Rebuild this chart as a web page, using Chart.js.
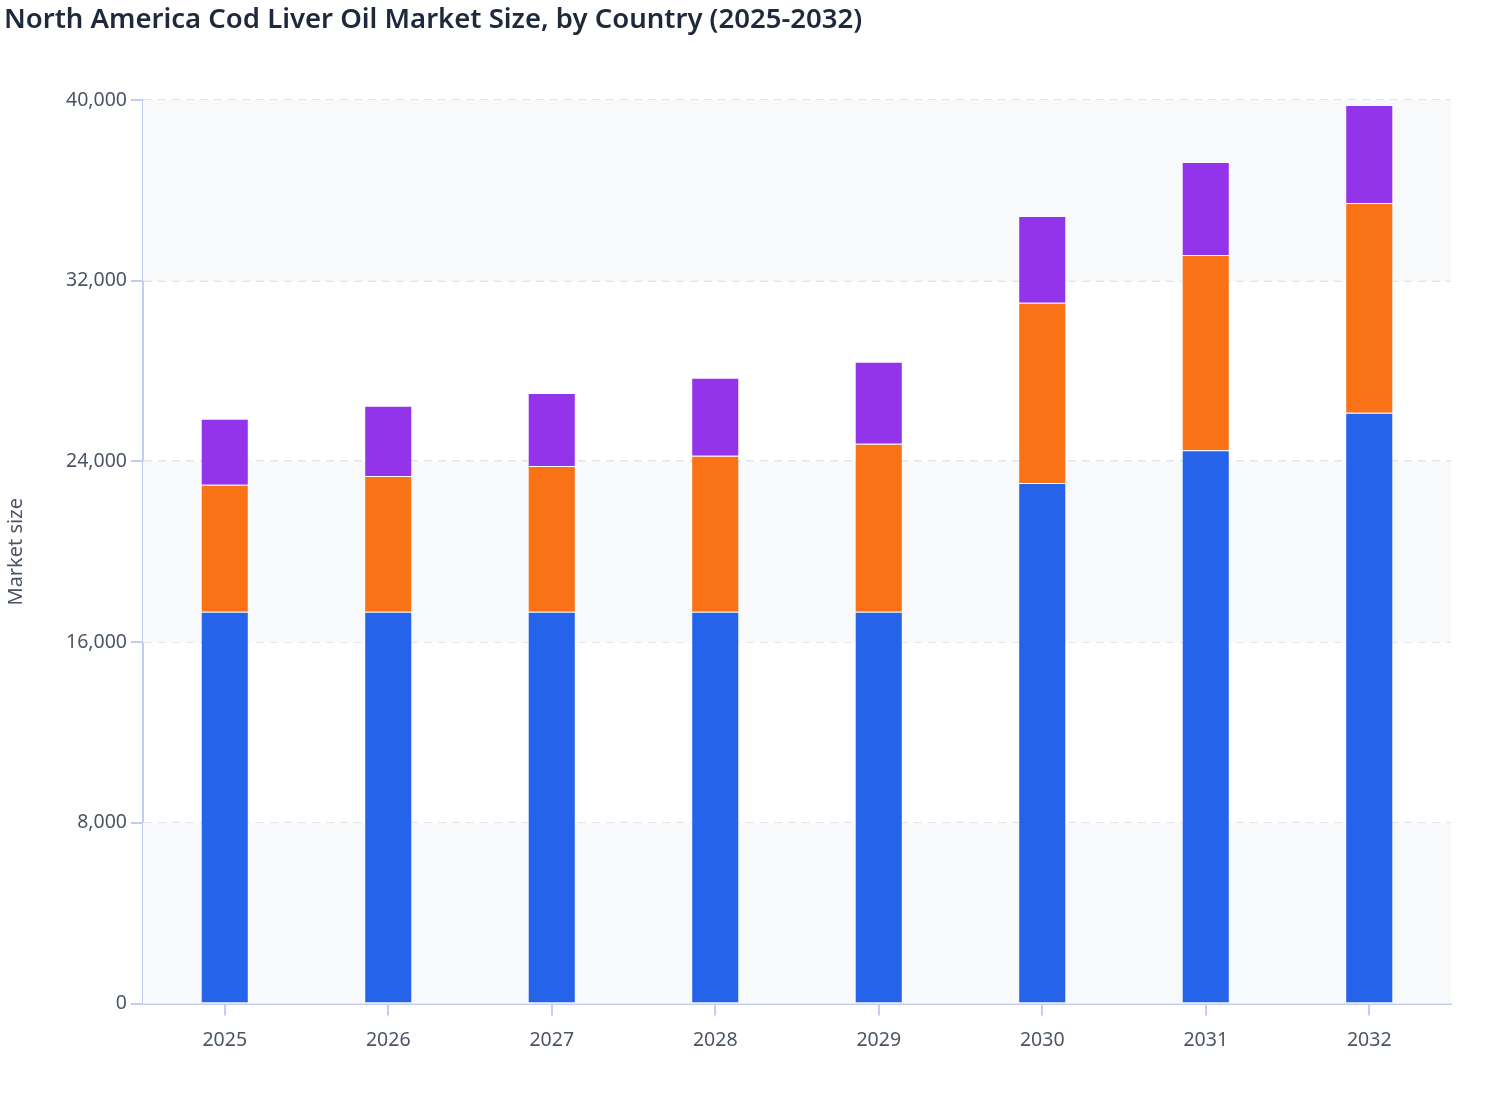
<!DOCTYPE html>
<html>
<head>
<meta charset="utf-8">
<script src="https://cdn.jsdelivr.net/npm/chart.js@4"></script>
<style>
  body { margin: 0; background: #fff; }
  #wrap { width: 1508px; height: 1120px; }
</style>
</head>
<body>
<div id="wrap"><canvas id="marketChart" width="1508" height="1120"></canvas></div>
<script>
const years = ["2025", "2026", "2027", "2028", "2029", "2030", "2031", "2032"];
const usValues = [17350, 17350, 17350, 17350, 17350, 23050, 24500, 26150];
const canadaValues = [5620, 6010, 6450, 6900, 7430, 7970, 8640, 9290];
const mexicoValues = [2920, 3100, 3230, 3450, 3630, 3850, 4115, 4340];
const yTicks = [0, 8000, 16000, 24000, 32000, 40000];

// shade every other band between y ticks
const bands = {
  id: "bands",
  beforeDatasetsDraw(chart) {
    const { ctx, chartArea, scales } = chart;
    const y = scales.y;
    ctx.save();
    ctx.fillStyle = "#f8f9fb";
    for (let i = 0; i < yTicks.length - 1; i += 2) {
      const top = y.getPixelForValue(yTicks[i + 1]);
      const bottom = y.getPixelForValue(yTicks[i]);
      ctx.fillRect(chartArea.left, top, chartArea.right - chartArea.left, bottom - top);
    }
    ctx.restore();
  }
};

const ctx = document.getElementById("marketChart").getContext("2d");

new Chart(ctx, {
  type: "bar",
  data: {
    labels: years,
    datasets: [
      { label: "U.S.", data: usValues, backgroundColor: "#2563eb", borderColor: "rgba(255,255,255,0.3)", borderWidth: 1 },
      { label: "Canada", data: canadaValues, backgroundColor: "#f97316", borderColor: "rgba(255,255,255,0.3)", borderWidth: 1 },
      { label: "Mexico", data: mexicoValues, backgroundColor: "#9333ea", borderColor: "rgba(255,255,255,0.3)", borderWidth: 1 }
    ]
  },
  options: {
    responsive: false,
    animation: false,
    devicePixelRatio: 1,
    layout: { padding: { left: 4, right: 57, top: 0, bottom: 55 } },
    datasets: { bar: { categoryPercentage: 1, barPercentage: 0.294 } },
    plugins: {
      legend: { display: false },
      tooltip: { enabled: false },
      title: {
        display: true,
        text: "North America Cod Liver Oil Market Size, by Country (2025-2032)",
        align: "start",
        color: "#1e293b",
        font: { family: "'Noto Sans'", size: 27.5, weight: "600" },
        padding: { top: 4, bottom: 63 }
      }
    },
    scales: {
      x: {
        stacked: true,
        border: { color: "#c3cdf0", width: 2 },
        grid: { offset: false, drawOnChartArea: false, tickColor: "#c3cdf0", tickLength: 12, lineWidth: 2 },
        ticks: { color: "#4b5563", padding: 13, font: { family: "'Noto Sans'", size: 19.5 } }
      },
      y: {
        stacked: true,
        min: 0,
        max: 40000,
        border: { color: "#c3cdf0", width: 2, dash: [8, 6] },
        grid: {
          color: "#dfe3ea",
          lineWidth: 2,
          tickColor: "#c3cdf0",
          tickLength: 12,
          tickBorderDash: [],
          drawTicks: true
        },
        afterBuildTicks(scale) {
          scale.ticks = yTicks.map(v => ({ value: v }));
        },
        ticks: {
          color: "#4b5563",
          padding: 4,
          font: { family: "'Noto Sans'", size: 19.5 },
          callback: v => v.toLocaleString("en-US")
        },
        title: {
          display: true,
          text: "Market size",
          color: "#4b5563",
          font: { family: "'Noto Sans'", size: 20 },
          padding: { top: 0, bottom: 34 }
        }
      }
    }
  },
  plugins: [bands]
});
</script>
</body>
</html>
